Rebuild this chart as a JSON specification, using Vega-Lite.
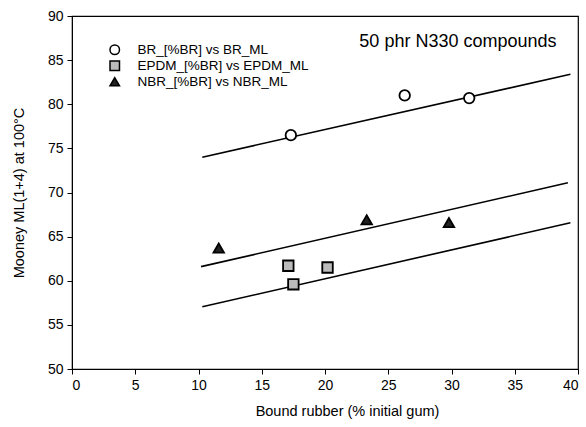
{
  "$schema": "https://vega.github.io/schema/vega-lite/v6.json",
  "width": 506,
  "height": 353,
  "autosize": {"type": "none"},
  "padding": {"left": 72, "top": 16, "right": 8, "bottom": 58},
  "background": "white",
  "config": {
    "font": "Liberation Sans",
    "view": {"stroke": "black", "strokeWidth": 1.2},
    "axis": {"grid": false, "domainColor": "black", "tickColor": "black", "labelColor": "black", "titleColor": "black", "labelFontSize": 14, "titleFontSize": 14.5, "titleFontWeight": "normal", "tickSize": 5, "labelPadding": 4}
  },
  "datasets": {
    "points": [
      {"series": "BR_[%BR] vs BR_ML", "bound": 17.3, "ml": 76.5},
      {"series": "BR_[%BR] vs BR_ML", "bound": 26.3, "ml": 81.0},
      {"series": "BR_[%BR] vs BR_ML", "bound": 31.4, "ml": 80.7},
      {"series": "EPDM_[%BR] vs EPDM_ML", "bound": 17.1, "ml": 61.7},
      {"series": "EPDM_[%BR] vs EPDM_ML", "bound": 17.5, "ml": 59.6},
      {"series": "EPDM_[%BR] vs EPDM_ML", "bound": 20.2, "ml": 61.5},
      {"series": "NBR_[%BR] vs NBR_ML", "bound": 11.6, "ml": 63.7},
      {"series": "NBR_[%BR] vs NBR_ML", "bound": 23.3, "ml": 66.9},
      {"series": "NBR_[%BR] vs NBR_ML", "bound": 29.8, "ml": 66.6}
    ],
    "fits": [
      {"line": "BR", "bound": 10.3, "ml": 74.0},
      {"line": "BR", "bound": 39.4, "ml": 83.4},
      {"line": "NBR", "bound": 10.2, "ml": 61.6},
      {"line": "NBR", "bound": 39.2, "ml": 71.1},
      {"line": "EPDM", "bound": 10.3, "ml": 57.05},
      {"line": "EPDM", "bound": 39.4, "ml": 66.57}
    ],
    "note": [{"text": "50 phr N330 compounds", "bound": 38.3, "ml": 87.1}]
  },
  "layer": [
    {
      "data": {"name": "fits"},
      "mark": {"type": "line", "color": "black", "strokeWidth": 1.6},
      "encoding": {
        "x": {"field": "bound", "type": "quantitative", "scale": {"domain": [0, 40], "nice": false}, "axis": {"values": [0, 5, 10, 15, 20, 25, 30, 35, 40], "title": "Bound rubber (% initial gum)", "titlePadding": 12, "titleX": 275}},
        "y": {"field": "ml", "type": "quantitative", "scale": {"domain": [50, 90], "nice": false, "zero": false}, "axis": {"values": [50, 55, 60, 65, 70, 75, 80, 85, 90], "title": "Mooney ML(1+4) at 100°C", "titlePadding": 21}},
        "detail": {"field": "line"}
      }
    },
    {
      "data": {"name": "points"},
      "mark": {"type": "point", "filled": false, "strokeWidth": 1.8, "opacity": 1},
      "encoding": {
        "x": {"field": "bound", "type": "quantitative"},
        "y": {"field": "ml", "type": "quantitative"},
        "shape": {"field": "series", "type": "nominal", "scale": {"range": ["circle", "square", "triangle-up"]}, "legend": {"title": null, "orient": "none", "legendX": 36, "legendY": 27, "labelFontSize": 13.5, "labelColor": "black", "labelLimit": 400, "symbolSize": 90, "rowPadding": 0, "labelOffset": 16, "encode": {"symbols": {"update": {"stroke": {"value": "black"}, "strokeWidth": {"value": 1.8}}}}}},
        "fill": {"field": "series", "type": "nominal", "scale": {"range": ["#ffffff", "#bbbbbb", "#222222"]}, "legend": {"title": null, "orient": "none", "legendX": 36, "legendY": 27, "labelFontSize": 13.5, "labelColor": "black", "labelLimit": 400, "symbolSize": 90, "rowPadding": 0, "labelOffset": 16, "encode": {"symbols": {"update": {"stroke": {"value": "black"}, "strokeWidth": {"value": 1.8}}}}}},
        "stroke": {"value": "black"},
        "size": {"value": 110}
      }
    },
    {
      "data": {"name": "note"},
      "mark": {"type": "text", "align": "right", "baseline": "middle", "fontSize": 18, "color": "black"},
      "encoding": {
        "x": {"field": "bound", "type": "quantitative"},
        "y": {"field": "ml", "type": "quantitative"},
        "text": {"field": "text"}
      }
    }
  ]
}
